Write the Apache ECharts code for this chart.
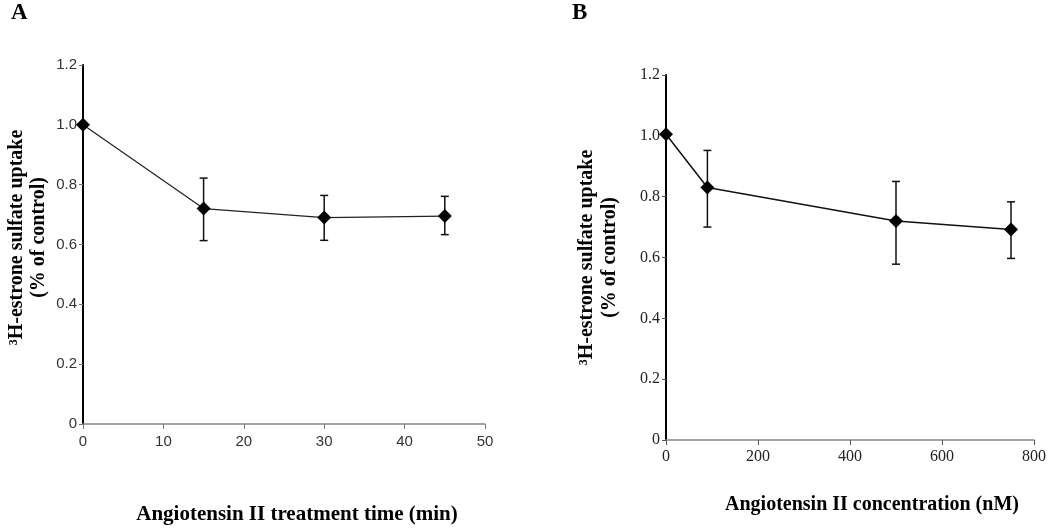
<!DOCTYPE html>
<html>
<head>
<meta charset="utf-8">
<script src="https://cdn.jsdelivr.net/npm/echarts@6/dist/echarts.min.js"></script>
<style>html,body{margin:0;padding:0;background:#fff;}#c{width:1050px;height:530px;}</style>
</head>
<body>
<div id="c"></div>
<script>
// Panel A: treatment time
const timeX = [0, 15, 30, 45];
const timeMean = [1.0, 0.72, 0.69, 0.695];
const timeLow = [null, 0.613, 0.614, 0.633];
const timeHigh = [null, 0.822, 0.764, 0.761];
// Panel B: concentration
const concX = [0, 90, 500, 750];
const concMean = [1.005, 0.83, 0.72, 0.692];
const concLow = [null, 0.70, 0.578, 0.597];
const concHigh = [null, 0.952, 0.85, 0.783];

const yTitle = '\u00B3H-estrone sulfate uptake\n(% of control)';
const xTitleA = 'Angiotensin II treatment time (min)';
const xTitleB = 'Angiotensin II concentration (nM)';

function pairs(xs, ys) { return xs.map((x, i) => [x, ys[i]]); }
function errData(xs, lo, hi) {
  const out = [];
  xs.forEach((x, i) => { if (lo[i] != null) out.push([x, lo[i], hi[i]]); });
  return out;
}
function errRender(params, api) {
  const x = api.value(0), lo = api.value(1), hi = api.value(2);
  const a = api.coord([x, hi]), b = api.coord([x, lo]);
  const w = 4;
  const st = { stroke: '#111', lineWidth: 1.5 };
  return { type: 'group', children: [
    { type: 'line', shape: { x1: a[0], y1: a[1], x2: b[0], y2: b[1] }, style: st },
    { type: 'line', shape: { x1: a[0] - w, y1: a[1], x2: a[0] + w, y2: a[1] }, style: st },
    { type: 'line', shape: { x1: b[0] - w, y1: b[1], x2: b[0] + w, y2: b[1] }, style: st }
  ]};
}
const yFmt = v => v === 0 ? '0' : v.toFixed(1);
const serif = '"Liberation Serif", "Times New Roman", serif';
const sans = '"Liberation Sans", Arial, sans-serif';

const chart = echarts.init(document.getElementById('c'));
chart.setOption({
  animation: false,
  backgroundColor: '#fff',
  graphic: [
    { type: 'text', left: 11, top: 2, style: { text: 'A', font: 'bold 23px ' + serif, fill: '#000' } },
    { type: 'text', left: 572, top: 2, style: { text: 'B', font: 'bold 23px ' + serif, fill: '#000' } }
  ],
  grid: [
    { left: 83, top: 65, width: 402, height: 364 },
    { left: 666, top: 75, width: 368, height: 365 }
  ],
  xAxis: [
    { gridIndex: 0, type: 'value', min: 0, max: 50, interval: 10,
      name: xTitleA, nameLocation: 'middle', nameGap: 80,
      nameTextStyle: { fontFamily: serif, fontWeight: 'bold', fontSize: 21, color: '#000', padding: [0, 0, 0, 26] },
      axisLine: { lineStyle: { color: '#888', width: 1.5 } },
      axisTick: { length: 5, lineStyle: { color: '#777' } },
      axisLabel: { fontFamily: sans, fontSize: 15, color: '#333', margin: 10 },
      splitLine: { show: false } },
    { gridIndex: 1, type: 'value', min: 0, max: 800, interval: 200,
      name: xTitleB, nameLocation: 'middle', nameGap: 55,
      nameTextStyle: { fontFamily: serif, fontWeight: 'bold', fontSize: 20, color: '#000', padding: [0, 0, 0, 44] },
      axisLine: { lineStyle: { color: '#888', width: 1.5 } },
      axisTick: { length: 5, lineStyle: { color: '#555' } },
      axisLabel: { fontFamily: serif, fontSize: 16, color: '#222', margin: 9 },
      splitLine: { show: false } }
  ],
  yAxis: [
    { gridIndex: 0, type: 'value', min: 0, max: 1.2, interval: 0.2,
      name: yTitle, nameLocation: 'middle', nameGap: 33,
      nameTextStyle: { fontFamily: serif, fontWeight: 'bold', fontSize: 20, color: '#000', lineHeight: 22, padding: [0, 0, 0, 14] },
      axisLine: { lineStyle: { color: '#000', width: 2 } },
      axisTick: { length: 4, lineStyle: { color: '#777' } },
      axisLabel: { fontFamily: sans, fontSize: 15, color: '#333', margin: 6, formatter: yFmt },
      splitLine: { show: false } },
    { gridIndex: 1, type: 'value', min: 0, max: 1.2, interval: 0.2,
      name: yTitle, nameLocation: 'middle', nameGap: 45,
      nameTextStyle: { fontFamily: serif, fontWeight: 'bold', fontSize: 20, color: '#000', lineHeight: 23 },
      axisLine: { lineStyle: { color: '#000', width: 2 } },
      axisTick: { length: 4, lineStyle: { color: '#555' } },
      axisLabel: { fontFamily: serif, fontSize: 16, color: '#222', margin: 6, formatter: yFmt },
      splitLine: { show: false } }
  ],
  series: [
    { type: 'custom', xAxisIndex: 0, yAxisIndex: 0, renderItem: errRender,
      data: errData(timeX, timeLow, timeHigh), z: 2 },
    { type: 'line', xAxisIndex: 0, yAxisIndex: 0, data: pairs(timeX, timeMean),
      symbol: 'diamond', symbolSize: 14,
      lineStyle: { color: '#222', width: 1.2 }, itemStyle: { color: '#000' }, z: 3 },
    { type: 'custom', xAxisIndex: 1, yAxisIndex: 1, renderItem: errRender,
      data: errData(concX, concLow, concHigh), z: 2 },
    { type: 'line', xAxisIndex: 1, yAxisIndex: 1, data: pairs(concX, concMean),
      symbol: 'diamond', symbolSize: 14,
      lineStyle: { color: '#111', width: 1.5 }, itemStyle: { color: '#000' }, z: 3 }
  ]
});
</script>
</body>
</html>
